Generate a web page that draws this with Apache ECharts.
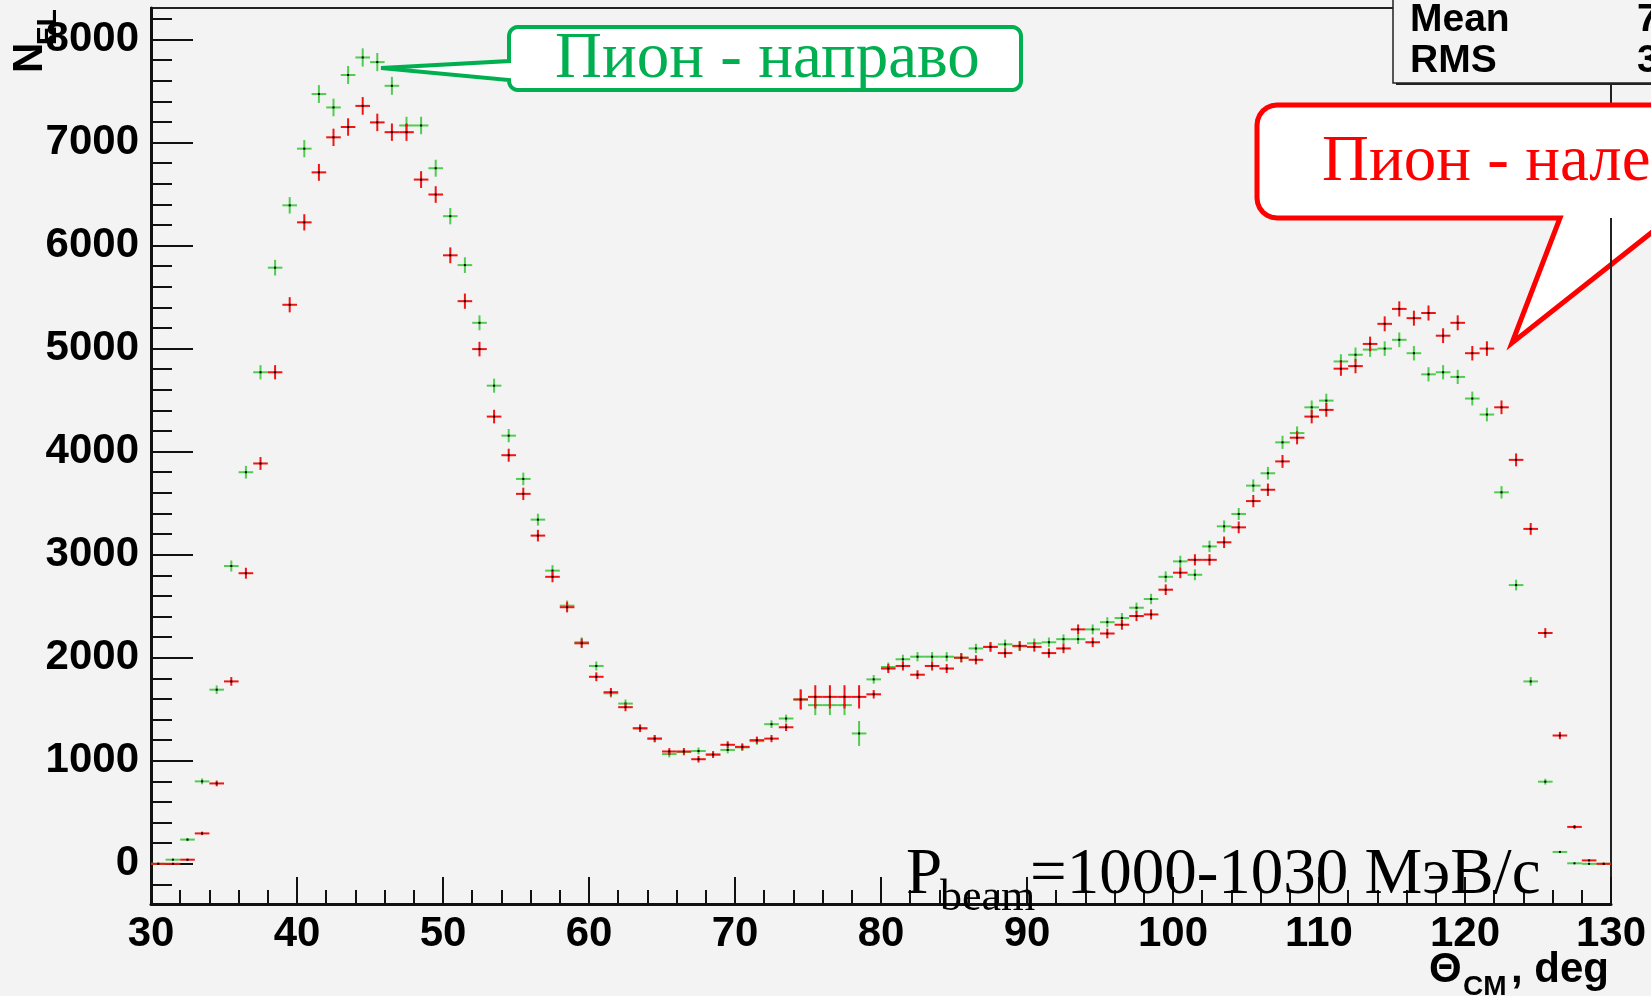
<!DOCTYPE html>
<html>
<head>
<meta charset="utf-8">
<script src="https://cdn.jsdelivr.net/npm/echarts@6/dist/echarts.min.js"></script>
<style>
  html, body { margin: 0; padding: 0; background: #f3f3f3; }
  #chart { width: 1651px; height: 996px; }
</style>
</head>
<body>
<div id="chart"></div>
<script>
// Bin centres of the Θ_CM histogram, 1 degree bins from 30 to 130
const thetaCenters = [
  30.5, 31.5, 32.5, 33.5, 34.5, 35.5, 36.5, 37.5, 38.5, 39.5,
  40.5, 41.5, 42.5, 43.5, 44.5, 45.5, 46.5, 47.5, 48.5, 49.5,
  50.5, 51.5, 52.5, 53.5, 54.5, 55.5, 56.5, 57.5, 58.5, 59.5,
  60.5, 61.5, 62.5, 63.5, 64.5, 65.5, 66.5, 67.5, 68.5, 69.5,
  70.5, 71.5, 72.5, 73.5, 74.5, 75.5, 76.5, 77.5, 78.5, 79.5,
  80.5, 81.5, 82.5, 83.5, 84.5, 85.5, 86.5, 87.5, 88.5, 89.5,
  90.5, 91.5, 92.5, 93.5, 94.5, 95.5, 96.5, 97.5, 98.5, 99.5,
  100.5, 101.5, 102.5, 103.5, 104.5, 105.5, 106.5, 107.5, 108.5, 109.5,
  110.5, 111.5, 112.5, 113.5, 114.5, 115.5, 116.5, 117.5, 118.5, 119.5,
  120.5, 121.5, 122.5, 123.5, 124.5, 125.5, 126.5, 127.5, 128.5, 129.5
];

// Pion going to the right (green histogram)
const countsRight = [
  0, 40, 235, 800, 1690, 2890, 3800, 4770, 5785, 6390,
  6940, 7470, 7340, 7655, 7825, 7780, 7550, 7165, 7165, 6750,
  6285, 5810, 5250, 4640, 4155, 3735, 3340, 2845, 2505, 2150,
  1920, 1655, 1555, 1315, 1215, 1065, 1085, 1095, 1060, 1105,
  1130, 1190, 1355, 1410, 1595, 1540, 1540, 1540, 1265, 1790,
  1910, 1985, 2010, 2010, 2010, 2000, 2090, 2105, 2130, 2110,
  2140, 2150, 2180, 2180, 2275, 2345, 2385, 2485, 2570, 2785,
  2935, 2805, 3080, 3275, 3395, 3670, 3790, 4090, 4180, 4430,
  4495, 4875, 4940, 4990, 5000, 5085, 4955, 4750, 4770, 4725,
  4515, 4360, 3605, 2705, 1770, 797, 115, 5, 0, 0
];

// Pion going to the left (red histogram)
const countsLeft = [
  0, 0, 40, 295, 780, 1770, 2820, 3885, 4770, 5425,
  6225, 6710, 7050, 7150, 7355, 7195, 7100, 7100, 6640, 6495,
  5905, 5460, 4995, 4340, 3965, 3590, 3185, 2785, 2490, 2140,
  1815, 1665, 1520, 1315, 1215, 1090, 1090, 1015, 1060, 1155,
  1135, 1200, 1215, 1325, 1595, 1620, 1620, 1620, 1620, 1645,
  1895, 1920, 1835, 1920, 1895, 2000, 1980, 2105, 2045, 2115,
  2105, 2045, 2090, 2275, 2150, 2235, 2320, 2405, 2420, 2660,
  2825, 2950, 2950, 3120, 3265, 3520, 3630, 3905, 4135, 4340,
  4405, 4805, 4830, 5045, 5240, 5385, 5295, 5345, 5125, 5250,
  4955, 5000, 4430, 3920, 3250, 2240, 1245, 358, 33, 0
];

// Bins whose error bars are larger than plain counting statistics
const errRightOverride = { 74.5: 97, 75.5: 97, 76.5: 97, 77.5: 97, 78.5: 121 };
const errLeftOverride  = { 74.5: 97, 75.5: 113, 76.5: 113, 77.5: 113, 78.5: 113 };

// Axis ticks
const xTickStep = 10;
const yMajorTicks = [0, 1000, 2000, 3000, 4000, 5000, 6000, 7000, 8000];
const yMinorTicks = [-200];
yMajorTicks.forEach(function (t) { [200, 400, 600, 800].forEach(function (d) { yMinorTicks.push(t + d); }); });

const labelRight = 'Пион - направо';
const labelLeft = 'Пион - налево';

const GREEN_MARK = '#50cc50';
const RED_MARK = '#f01414';
const GREEN_NOTE = '#00b050';
const RED_NOTE = '#ff0000';
const BG = '#f3f3f3';
const SANS = '"Liberation Sans", Arial, Helvetica, sans-serif';
const SERIF = '"Liberation Serif", "Times New Roman", serif';

function withErrors(counts, overrides) {
  return thetaCenters.map(function (t, i) {
    const poissonErr = Math.sqrt(counts[i]);
    const e = overrides[t] !== undefined ? overrides[t] : poissonErr;
    return [t, counts[i], e];
  });
}

function crossRenderer(color) {
  return function (params, api) {
    const x = api.value(0), y = api.value(1), e = api.value(2);
    const a = api.coord([x - 0.5, y]);
    const b = api.coord([x + 0.5, y]);
    const c = api.coord([x, y + e]);
    const d = api.coord([x, y - e]);
    const m = api.coord([x, y]);
    return {
      type: 'group',
      children: [
        { type: 'line', shape: { x1: a[0], y1: a[1], x2: b[0], y2: b[1] }, style: { stroke: color, lineWidth: 2 } },
        { type: 'line', shape: { x1: c[0], y1: c[1], x2: d[0], y2: d[1] }, style: { stroke: color, lineWidth: 2 } },
        { type: 'rect', shape: { x: m[0] - 1, y: m[1] - 1, width: 2, height: 2 }, style: { fill: '#000' } }
      ]
    };
  };
}

// Statistics of the first histogram
function histStats(counts) {
  let s = 0, sx = 0, sxx = 0;
  counts.forEach(function (n, i) { const t = thetaCenters[i]; s += n; sx += n * t; sxx += n * t * t; });
  const mean = sx / s;
  return { mean: mean, rms: Math.sqrt(sxx / s - mean * mean) };
}
const stats = histStats(countsRight);

// Rounded corner outline points for the callouts
function arc(cx, cy, r, a0, a1, n) {
  const pts = [];
  for (let k = 0; k <= n; k++) {
    const th = (a0 + (a1 - a0) * k / n) * Math.PI / 180;
    pts.push([cx + r * Math.cos(th), cy + r * Math.sin(th)]);
  }
  return pts;
}
const greenCallout = [].concat(
  arc(518, 36, 9, 180, 270, 6),
  arc(1012, 36, 9, 270, 360, 6),
  arc(1012, 81, 9, 0, 90, 6),
  arc(518, 81, 9, 90, 180, 6),
  [[509, 80], [381, 68], [509, 61]]
);
const redCallout = [].concat(
  arc(1277, 125, 20, 180, 270, 6),
  [[1720, 105], [1720, 218], [1670, 218], [1512, 343], [1560, 218]],
  arc(1277, 198, 20, 90, 180, 6)
);

function txt(text, x, y, font, fill, align, extra) {
  const el = {
    type: 'text', z: 20,
    x: x, y: y,
    style: { text: text, x: 0, y: 0, font: font, fill: fill,
             align: align, textAlign: align, verticalAlign: 'middle', textVerticalAlign: 'middle' }
  };
  if (extra) Object.assign(el, extra);
  return el;
}

const axisColor = '#111';
const tickStyle = { color: axisColor, width: 2 };
const plainNumber = function (v) { return String(v); };

const option = {
  backgroundColor: BG,
  animation: false,
  grid: { left: 151, right: 40, top: 8, bottom: 92, show: true, borderColor: '#222', borderWidth: 2, backgroundColor: 'transparent' },
  xAxis: {
    type: 'value', min: 30, max: 130, interval: xTickStep,
    axisLine: { onZero: false, lineStyle: { color: axisColor, width: 3 } },
    axisTick: { inside: true, length: 27, lineStyle: tickStyle },
    minorTick: { show: true, splitNumber: 5, length: 14, lineStyle: tickStyle },
    splitLine: { show: false }, minorSplitLine: { show: false },
    axisLabel: { margin: 9, fontSize: 42, fontWeight: 'bold', fontFamily: SANS, color: '#000', formatter: plainNumber }
  },
  yAxis: [
    {
      type: 'value', min: -390, max: 8305, position: 'left',
      axisLine: { show: true, onZero: false, lineStyle: { color: axisColor, width: 3 } },
      axisTick: { show: true, inside: true, length: 42, customValues: yMajorTicks, lineStyle: tickStyle },
      axisLabel: { customValues: yMajorTicks, margin: 12, fontSize: 42, fontWeight: 'bold', fontFamily: SANS, color: '#000', formatter: plainNumber },
      splitLine: { show: false }
    },
    {
      type: 'value', min: -390, max: 8305, position: 'left', offset: 0,
      axisLine: { show: false },
      axisTick: { show: true, inside: true, length: 21, customValues: yMinorTicks, lineStyle: tickStyle },
      axisLabel: { show: false },
      splitLine: { show: false }
    }
  ],
  series: [
    {
      name: labelRight, type: 'custom', coordinateSystem: 'cartesian2d', yAxisIndex: 0,
      data: withErrors(countsRight, errRightOverride), encode: { x: 0, y: 1 },
      renderItem: crossRenderer(GREEN_MARK), clip: true, z: 3
    },
    {
      name: labelLeft, type: 'custom', coordinateSystem: 'cartesian2d', yAxisIndex: 0,
      data: withErrors(countsLeft, errLeftOverride), encode: { x: 0, y: 1 },
      renderItem: crossRenderer(RED_MARK), clip: true, z: 4
    }
  ],
  graphic: [
    // statistics box with its shadow
    { type: 'rect', z: 15, shape: { x: 1396, y: -10, width: 320, height: 95 }, style: { fill: '#222' } },
    { type: 'rect', z: 16, shape: { x: 1393, y: -10, width: 320, height: 93 }, style: { fill: BG, stroke: '#222', lineWidth: 1.5 } },
    txt('Mean', 1410, 20.5, 'bold 39px ' + SANS, '#000', 'left'),
    txt('RMS', 1410, 61, 'bold 39px ' + SANS, '#000', 'left'),
    txt(stats.mean.toFixed(2), 1637, 20.5, 'bold 39px ' + SANS, '#000', 'left'),
    txt(stats.rms.toFixed(2), 1637, 61, 'bold 39px ' + SANS, '#000', 'left'),

    // callouts
    { type: 'polygon', z: 12, shape: { points: greenCallout }, style: { fill: '#fff', stroke: GREEN_NOTE, lineWidth: 4 } },
    txt(labelRight, 555, 60, '65px ' + SERIF, GREEN_NOTE, 'left'),
    { type: 'polygon', z: 12, shape: { points: redCallout }, style: { fill: '#fff', stroke: RED_NOTE, lineWidth: 5 } },
    txt(labelLeft, 1322, 163, '65px ' + SERIF, RED_NOTE, 'left'),
    { type: 'line', z: 13, shape: { x1: 1611, y1: 218, x2: 1611, y2: 300 }, style: { stroke: '#222', lineWidth: 2 } },

    // beam momentum note
    txt('P', 906, 876, '65px ' + SERIF, '#000', 'left'),
    txt('beam', 940, 898, '44px ' + SERIF, '#000', 'left'),
    txt('=1000-1030 МэВ/с', 1030, 876, '65px ' + SERIF, '#000', 'left'),

    // axis titles
    txt('N', 30, 73, 'bold 42px ' + SANS, '#000', 'left', { rotation: Math.PI / 2 }),
    txt('EL', 48, 45, 'bold 28px ' + SANS, '#000', 'left', { rotation: Math.PI / 2 }),
    txt('Θ', 1429, 970.5, 'bold 42px ' + SANS, '#000', 'left'),
    txt('CM', 1463, 987.3, 'bold 28px ' + SANS, '#000', 'left'),
    txt(', deg', 1609, 970.5, 'bold 42px ' + SANS, '#000', 'right')
  ]
};

const chart = echarts.init(document.getElementById('chart'), null, { renderer: 'canvas' });
chart.setOption(option);
</script>
</body>
</html>
